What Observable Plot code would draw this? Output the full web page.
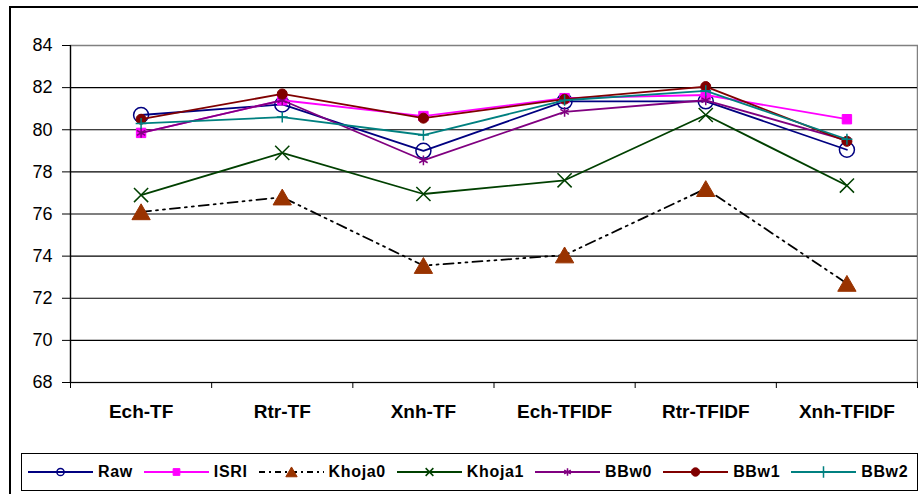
<!DOCTYPE html>
<html>
<head>
<meta charset="utf-8">
<script src="https://cdn.jsdelivr.net/npm/d3@7"></script>
<script src="https://cdn.jsdelivr.net/npm/@observablehq/plot@0.6"></script>
<style>
  body { margin: 0; background: #fff; font-family: Arial, "Liberation Sans", sans-serif; }
  #wrap { position: relative; width: 918px; height: 494px; overflow: hidden; background: #fff; }
  #frame { position: absolute; left: 9px; top: 6px; width: 1000px; height: 1000px; border: 2px solid #000; box-sizing: border-box; }
  #chart { position: absolute; left: 0; top: 0; }
  #legend { position: absolute; left: 21px; top: 453px; width: 897px; height: 38px; border: 1.5px solid #000; box-sizing: border-box;
            display: flex; align-items: center; padding-left: 6px; background: #fff; }
  .item { display: flex; align-items: center; margin-right: 11px; }
  .item span { font: bold 16px Arial, "Liberation Sans", sans-serif; letter-spacing: 0.65px; color: #000; margin-left: 5px; }
</style>
</head>
<body>
<div id="wrap">
  <div id="frame"></div>
  <div id="chart"></div>
  <div id="legend"></div>
</div>
<script>
// ---- data ----
const categories = ["Ech-TF", "Rtr-TF", "Xnh-TF", "Ech-TFIDF", "Rtr-TFIDF", "Xnh-TFIDF"];
const seriesNames = ["Raw", "ISRI", "Khoja0", "Khoja1", "BBw0", "BBw1", "BBw2"];
const raw    = [80.7, 81.2, 79.0, 81.35, 81.35, 79.05];
const isri   = [79.85, 81.4, 80.65, 81.5, 81.65, 80.5];
const khoja0 = [76.1, 76.8, 73.55, 74.05, 77.2, 72.7];
const khoja1 = [76.9, 78.9, 76.95, 77.6, 80.7, 77.35];
const bbw0   = [79.85, 81.4, 78.55, 80.85, 81.4, 79.5];
const bbw1   = [80.5, 81.7, 80.55, 81.45, 82.05, 79.45];
const bbw2   = [80.3, 80.6, 79.75, 81.4, 81.85, 79.55];
const yTicks = [68, 70, 72, 74, 76, 78, 80, 82, 84];

const valuesBySeries = { Raw: raw, ISRI: isri, Khoja0: khoja0, Khoja1: khoja1, BBw0: bbw0, BBw1: bbw1, BBw2: bbw2 };
const rows = seriesNames.flatMap(s => categories.map((c, i) => ({ series: s, category: c, pos: i + 0.5, value: valuesBySeries[s][i] })));

// ---- styles ----
const styles = {
  Raw:    { line: "#000080", symbol: "circle",   fill: "none",    stroke: "#000080", r: 7.5, sw: 1.5, lr: 3.6 },
  ISRI:   { line: "#ff00ff", symbol: "square",   fill: "#ff00ff", stroke: "#ff00ff", r: 5.3, sw: 1,   lr: 3.8 },
  Khoja0: { line: "#000000", symbol: "triangle", fill: "#993300", stroke: "#993300", r: 6.8, sw: 1,   lr: 4.2, dash: "10,5,2,5,2,5", dy: 2.5 },
  Khoja1: { line: "#004000", symbol: "times",    fill: "none",    stroke: "#004000", r: 6.5, sw: 1.5, lr: 3.6 },
  BBw0:   { line: "#800080", symbol: "asterisk", fill: "none",    stroke: "#800080", r: 4.6, sw: 1.5, lr: 3.6 },
  BBw1:   { line: "#800000", symbol: "circle",   fill: "#800000", stroke: "#800000", r: 5,   sw: 1,   lr: 4.2 },
  BBw2:   { line: "#008080", symbol: "plus",     fill: "none",    stroke: "#008080", r: 3.6, sw: 1.5, lr: 3.8 }
};

const seriesMarks = seriesNames.flatMap(s => {
  const st = styles[s];
  const data = rows.filter(d => d.series === s);
  return [
    Plot.line(data, { x: "pos", y: "value", stroke: st.line, strokeWidth: 1.8, strokeDasharray: st.dash }),
    Plot.dot(data, { x: "pos", y: "value", symbol: () => st.symbol, r: st.r, fill: st.fill, stroke: st.stroke, strokeWidth: st.sw, dy: st.dy || 0 })
  ];
});

const chart = Plot.plot({
  width: 918,
  height: 450,
  marginLeft: 70,
  marginRight: 1,
  marginTop: 45,
  marginBottom: 68,
  style: { fontFamily: "Arial, 'Liberation Sans', sans-serif", color: "#000", background: "transparent", overflow: "visible" },
  x: { domain: [0, categories.length] },
  y: { domain: [68, 84] },
  symbol: { type: "identity" },
  marks: [
    Plot.frame({ stroke: "#808080", strokeWidth: 1.5 }),
    Plot.ruleY(yTicks.filter(t => t < 84), { stroke: "#000", strokeWidth: 1.2 }),
    Plot.ruleX([0], { stroke: "#000", strokeWidth: 1.2 }),
    Plot.axisY(yTicks, { tickSize: 8, tickPadding: 10, fontSize: 18, label: null, stroke: "#000" }),
    Plot.axisX(d3.range(0, categories.length + 1), { tickSize: 6, tickFormat: () => "", label: null, stroke: "#000" }),
    Plot.axisX(categories.map((c, i) => i + 0.5), { tickSize: 0, tickPadding: 22, label: null,
      tickFormat: v => categories[Math.round(v - 0.5)], fontSize: 19, fontWeight: "bold" }),
    ...seriesMarks
  ]
});
document.getElementById("chart").appendChild(chart);

// ---- legend ----
const symbolTypes = { circle: d3.symbolCircle, square: d3.symbolSquare, triangle: d3.symbolTriangle,
  times: d3.symbolTimes, asterisk: d3.symbolAsterisk, plus: d3.symbolPlus };
const legend = document.getElementById("legend");
seriesNames.forEach(s => {
  const st = styles[s];
  const item = document.createElement("div");
  item.className = "item";
  const ns = "http://www.w3.org/2000/svg";
  const svg = document.createElementNS(ns, "svg");
  svg.setAttribute("width", 65); svg.setAttribute("height", 20);
  const line = document.createElementNS(ns, "line");
  line.setAttribute("x1", 0); line.setAttribute("x2", 65); line.setAttribute("y1", 10); line.setAttribute("y2", 10);
  line.setAttribute("stroke", st.line); line.setAttribute("stroke-width", 1.8);
  if (st.dash) line.setAttribute("stroke-dasharray", "6,4,2,4");
  svg.appendChild(line);
  const p = document.createElementNS(ns, "path");
  p.setAttribute("d", d3.symbol(symbolTypes[st.symbol], Math.PI * st.lr * st.lr)());
  p.setAttribute("transform", `translate(32.5,${10 + (st.symbol === "triangle" ? 1.5 : 0)})`);
  p.setAttribute("fill", st.fill); p.setAttribute("stroke", st.stroke); p.setAttribute("stroke-width", st.sw);
  svg.appendChild(p);
  item.appendChild(svg);
  const t = document.createElement("span");
  t.textContent = s;
  item.appendChild(t);
  legend.appendChild(item);
});
</script>
</body>
</html>
